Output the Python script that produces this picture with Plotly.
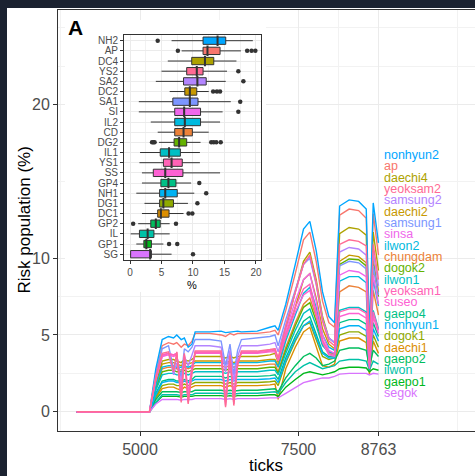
import math
import plotly.graph_objects as go

# ---------------- data ----------------
ticks = [4000, 5150, 5250, 5350, 5450, 5530, 5580, 5650, 5700, 5760, 5820, 5870, 6100, 6280,
         6350, 6420, 6480, 6540, 6600, 6850, 7050, 7130, 7180, 7300, 7450, 7580, 7680, 7780,
         7880, 7980, 8070, 8150, 8300, 8450, 8570, 8620, 8680, 8763]

ap = [0, 0, 2.5, 4.3, 4.5, 4.4, 4.5, 4.2, 4.4, 4.3, 4.6, 5.1, 5.1, 5.0, 4.9, 5.1, 5.0, 5.1, 5.1, 5.1, 5.2, 5.3, 5.0, 6.6, 9.0, 11.2, 11.7, 9.8, 7.2, 5.8, 5.5, 12.8, 13.2, 13.1, 12.6, 4.6, 12.9, 10.2]
chungdam = [0, 0, 1.6, 2.8, 2.9, 2.9, 2.8, 2.7, 2.9, 2.8, 2.9, 3.0, 3.0, 3.0, 2.9, 3.0, 2.9, 3.0, 3.0, 3.0, 3.1, 3.1, 2.6, 4.2, 5.8, 7.0, 7.4, 6.2, 4.6, 3.9, 3.7, 7.8, 8.2, 8.1, 7.8, 3.0, 7.9, 6.3]
daechi1 = [0, 0, 0.9, 1.5, 1.6, 1.6, 1.5, 1.4, 1.6, 1.5, 1.6, 1.7, 1.7, 1.7, 1.6, 1.7, 1.6, 1.7, 1.7, 1.7, 1.75, 1.8, 0.8, 2.8, 4.2, 5.2, 5.5, 4.2, 3.0, 2.9, 3.1, 4.6, 4.8, 4.8, 4.5, 2.4, 4.6, 3.8]
daechi2 = [0, 0, 1.8, 3.1, 3.2, 3.2, 3.1, 3.0, 3.2, 3.1, 3.2, 3.3, 3.3, 3.3, 3.2, 3.3, 3.2, 3.3, 3.3, 3.3, 3.4, 3.4, 3.0, 4.8, 6.8, 8.6, 9.0, 7.4, 5.4, 4.4, 4.1, 9.8, 10.2, 10.1, 9.7, 3.6, 9.9, 7.8]
daechi4 = [0, 0, 1.9, 3.3, 3.4, 3.4, 3.3, 3.2, 3.4, 3.3, 3.4, 3.6, 3.6, 3.6, 3.5, 3.6, 3.5, 3.6, 3.6, 3.6, 3.7, 3.8, 3.2, 5.4, 7.8, 9.8, 10.4, 8.6, 6.2, 4.8, 4.5, 11.6, 12.0, 11.9, 11.5, 4.2, 11.7, 9.2]
dogok1 = [0, 0, 1.0, 1.7, 1.8, 1.8, 1.7, 1.7, 1.8, 1.7, 1.8, 1.9, 1.9, 1.9, 1.8, 1.9, 1.8, 1.9, 1.9, 1.9, 1.95, 2.0, 1.7, 3.2, 4.6, 5.6, 5.8, 4.7, 3.6, 3.4, 3.5, 5.0, 5.2, 5.2, 4.9, 2.8, 5.0, 4.2]
dogok2 = [0, 0, 1.5, 2.6, 2.7, 2.7, 2.6, 2.6, 2.7, 2.6, 2.7, 2.8, 2.8, 2.8, 2.7, 2.8, 2.7, 2.8, 2.8, 2.8, 2.9, 2.9, 2.5, 4.0, 5.6, 6.8, 7.1, 5.9, 4.4, 3.8, 3.7, 9.6, 9.95, 9.9, 9.5, 3.4, 9.6, 7.5]
gaepo1 = [0, 0, 0.6, 1.0, 1.0, 1.0, 1.0, 0.95, 1.0, 1.0, 1.0, 1.05, 1.05, 1.05, 1.0, 1.05, 1.0, 1.05, 1.05, 1.05, 1.1, 1.1, 1.0, 1.6, 2.1, 2.5, 2.6, 2.5, 2.4, 2.5, 2.6, 2.8, 2.9, 2.9, 2.85, 2.6, 2.8, 2.7]
gaepo2 = [0, 0, 0.8, 1.3, 1.3, 1.3, 1.3, 1.25, 1.3, 1.3, 1.3, 1.4, 1.4, 1.4, 1.35, 1.4, 1.35, 1.4, 1.4, 1.4, 1.45, 1.5, 1.3, 2.2, 3.0, 3.6, 3.8, 3.5, 3.0, 3.1, 3.3, 4.0, 4.15, 4.15, 4.0, 2.9, 4.0, 3.6]
gaepo4 = [0, 0, 1.2, 2.0, 2.1, 2.1, 2.0, 2.0, 2.1, 2.0, 2.1, 2.3, 2.3, 2.3, 2.2, 2.3, 2.2, 2.3, 2.3, 2.3, 2.35, 2.4, 2.1, 3.5, 4.9, 5.9, 6.2, 5.1, 3.9, 3.6, 3.6, 5.8, 6.0, 6.0, 5.7, 3.0, 5.8, 4.9]
ilwon = [0, 0, 0.6, 1.1, 1.1, 1.1, 1.1, 1.05, 1.1, 1.1, 1.1, 1.2, 1.2, 1.2, 1.15, 1.2, 1.15, 1.2, 1.2, 1.2, 1.25, 1.3, 1.2, 1.9, 2.6, 3.0, 3.2, 3.0, 2.8, 2.9, 3.0, 3.3, 3.4, 3.4, 3.3, 2.7, 3.3, 3.1]
ilwon1 = [0, 0, 1.4, 2.4, 2.5, 2.5, 2.4, 2.4, 2.5, 2.4, 2.5, 2.6, 2.6, 2.6, 2.5, 2.6, 2.5, 2.6, 2.6, 2.6, 2.7, 2.7, 2.4, 3.8, 5.3, 6.4, 6.7, 5.6, 4.3, 3.9, 3.8, 6.6, 6.8, 6.8, 6.5, 3.2, 6.6, 5.4]
ilwon2 = [0, 0, 1.7, 2.9, 3.0, 3.0, 2.9, 2.9, 3.0, 2.9, 3.0, 3.2, 3.2, 3.2, 3.1, 3.2, 3.1, 3.2, 3.2, 3.2, 3.3, 3.3, 2.9, 4.6, 6.3, 7.7, 8.1, 6.8, 5.0, 4.2, 4.0, 8.5, 8.8, 8.8, 8.4, 3.5, 8.6, 6.9]
nonhyun1 = [0, 0, 1.1, 1.9, 2.0, 2.0, 1.9, 1.9, 2.0, 1.9, 2.0, 2.1, 2.1, 2.1, 2.0, 2.1, 2.0, 2.1, 2.1, 2.1, 2.15, 2.2, 1.9, 3.3, 4.7, 5.6, 5.9, 4.9, 3.8, 3.5, 3.5, 5.4, 5.6, 5.6, 5.3, 2.9, 5.4, 4.6]
nonhyun2 = [0, 0, 2.8, 4.7, 4.9, 4.8, 5.0, 4.7, 4.8, 4.2, 4.4, 5.2, 5.2, 5.25, 5.15, 5.2, 5.2, 5.25, 5.2, 5.25, 5.5, 5.6, 5.3, 7.0, 9.6, 11.9, 12.4, 10.5, 7.8, 6.2, 5.8, 13.4, 13.8, 13.7, 13.2, 5.0, 13.6, 11.0]
samsung1 = [0, 0, 2.4, 4.1, 4.3, 2.8, 3.6, 2.2, 4.1, 3.9, 4.2, 4.7, 4.7, 4.6, 3.0, 4.4, 2.4, 4.0, 4.7, 4.8, 4.9, 5.0, 4.3, 6.0, 8.0, 9.6, 10.0, 8.3, 6.0, 4.8, 4.5, 9.5, 9.8, 9.7, 9.3, 3.8, 9.5, 7.6]
samsung2 = [0, 0, 2.1, 3.6, 3.8, 2.4, 3.2, 1.8, 3.6, 3.0, 3.7, 4.3, 4.3, 4.2, 2.6, 4.0, 2.0, 3.6, 4.3, 4.3, 4.4, 4.5, 3.9, 5.7, 7.8, 9.6, 10.1, 8.4, 6.0, 4.8, 4.5, 10.4, 10.7, 10.6, 10.2, 3.9, 10.4, 8.2]
segok = [0, 0, 0.5, 0.8, 0.8, 0.8, 0.8, 0.75, 0.8, 0.8, 0.8, 0.85, 0.85, 0.85, 0.8, 0.85, 0.8, 0.85, 0.85, 0.85, 0.9, 0.9, 0.9, 1.2, 1.6, 1.9, 2.0, 2.1, 2.2, 2.2, 2.3, 2.45, 2.5, 2.5, 2.5, 2.4, 2.5, 2.45]
sinsa = [0, 0, 2.2, 3.7, 3.8, 3.7, 3.8, 1.2, 3.7, 0.9, 2.8, 3.9, 3.9, 3.9, 0.6, 3.6, 0.8, 3.2, 3.9, 3.9, 4.0, 4.1, 3.4, 5.3, 7.2, 8.6, 9.0, 7.2, 5.0, 4.0, 3.8, 8.9, 9.2, 9.1, 8.8, 3.0, 8.9, 7.0]
suseo = [0, 0, 2.1, 3.6, 3.7, 3.6, 3.7, 1.5, 3.6, 1.2, 3.0, 3.8, 3.8, 3.8, 0.9, 3.5, 1.1, 3.3, 3.8, 3.8, 3.9, 3.9, 3.3, 4.9, 6.5, 7.6, 7.9, 6.3, 4.5, 3.7, 3.6, 6.2, 6.4, 6.4, 6.1, 2.8, 6.2, 5.1]
yeoksam1 = [0, 0, 2.2, 3.7, 3.8, 3.7, 3.8, 0.8, 3.7, 0.6, 2.6, 3.85, 3.85, 3.85, 0.4, 3.6, 0.5, 3.1, 3.85, 3.85, 3.95, 4.0, 3.4, 5.1, 6.8, 8.0, 8.3, 6.6, 4.7, 3.8, 3.7, 6.5, 6.7, 6.7, 6.4, 2.9, 6.5, 5.3]
yeoksam2 = [0, 0, 2.3, 3.8, 3.9, 2.6, 3.9, 0.6, 3.8, 0.5, 2.5, 3.95, 3.95, 3.95, 0.3, 3.7, 0.4, 3.0, 3.95, 3.95, 4.05, 4.1, 3.5, 5.6, 7.8, 9.6, 10.2, 8.4, 5.9, 4.6, 4.3, 10.9, 11.2, 11.1, 10.8, 3.9, 10.9, 8.6]

regions = ["ap", "chungdam", "daechi1", "daechi2", "daechi4", "dogok1", "dogok2", "gaepo1",
           "gaepo2", "gaepo4", "ilwon", "ilwon1", "ilwon2", "nonhyun1", "nonhyun2", "samsung1",
           "samsung2", "segok", "sinsa", "suseo", "yeoksam1", "yeoksam2"]
region_values = [ap, chungdam, daechi1, daechi2, daechi4, dogok1, dogok2, gaepo1, gaepo2, gaepo4,
                 ilwon, ilwon1, ilwon2, nonhyun1, nonhyun2, samsung1, samsung2, segok, sinsa,
                 suseo, yeoksam1, yeoksam2]

# label order at the end of the lines (top to bottom)
label_order = ["nonhyun2", "ap", "daechi4", "yeoksam2", "samsung2", "daechi2", "samsung1", "sinsa",
               "ilwon2", "chungdam", "dogok2", "ilwon1", "yeoksam1", "suseo", "gaepo4", "nonhyun1",
               "dogok1", "daechi1", "gaepo2", "ilwon", "gaepo1", "segok"]

x_tickvals = [5000, 7500, 8763]
y_tickvals = [0, 5, 10, 20]

# inset boxplot (top to bottom)
box_cats = ["NH2", "AP", "DC4", "YS2", "SA2", "DC2", "SA1", "SI", "IL2", "CD", "DG2", "IL1",
            "YS1", "SS", "GP4", "NH1", "DG1", "DC1", "GP2", "IL", "GP1", "SG"]
box_region = ["nonhyun2", "ap", "daechi4", "yeoksam2", "samsung2", "daechi2", "samsung1", "sinsa",
              "ilwon2", "chungdam", "dogok2", "ilwon1", "yeoksam1", "suseo", "gaepo4", "nonhyun1",
              "dogok1", "daechi1", "gaepo2", "ilwon", "gaepo1", "segok"]
box_low = [6.6, 8.2, 6.0, 5.0, 4.1, 6.3, 1.4, 1.4, 3.3, 4.4, 4.6, 1.6, 1.5, 1.9, 1.9, 1.0, 2.3, 1.9, 1.3, 0.1, 1.0, 0.0]
box_q1 = [11.6, 11.6, 9.8, 9.0, 8.5, 8.7, 6.8, 7.1, 7.1, 7.1, 7.0, 4.8, 5.3, 3.7, 4.9, 4.7, 4.7, 4.4, 3.3, 1.5, 2.2, 0.1]
box_med = [13.9, 12.3, 11.9, 10.6, 10.7, 9.5, 9.5, 8.6, 8.7, 8.5, 7.8, 6.2, 6.6, 5.6, 6.1, 5.6, 5.3, 4.9, 4.1, 2.8, 2.6, 3.2]
box_q3 = [15.2, 14.3, 13.3, 11.6, 12.1, 10.6, 10.8, 11.2, 11.2, 9.9, 9.0, 8.0, 8.3, 8.4, 7.3, 7.5, 6.9, 6.2, 4.8, 3.8, 3.4, 3.4]
box_high = [19.5, 17.6, 16.9, 15.4, 15.2, 12.5, 16.0, 14.7, 14.3, 12.5, 11.2, 11.1, 11.1, 14.3, 9.7, 10.2, 9.2, 8.5, 6.3, 6.3, 5.3, 6.6]
out_cat = ["NH2", "AP", "AP", "AP", "AP", "YS2", "SA2", "DC2", "DC2", "DC2", "SA1", "SI",
           "DG2", "DG2", "DG2", "DG2", "DG2", "DG2", "DG2", "GP4", "NH1", "DG1", "DC1", "DC1",
           "GP2", "GP2", "GP1", "GP1", "SG"]
out_val = [4.4, 7.6, 18.6, 19.3, 19.9, 17.2, 18.0, 13.2, 13.8, 14.3, 17.5, 17.2,
           3.5, 3.7, 3.9, 12.9, 13.3, 13.7, 14.4, 11.0, 12.1, 10.7, 9.3, 9.9,
           0.5, 7.3, 6.2, 7.5, 10.0]
inset_tickvals = [0, 5, 10, 15, 20]


# ---------------- colours (ggplot2 default hue palette) ----------------
def hcl_hex(h, c=100.0, l=65.0):
    Xn, Yn, Zn = 95.047, 100.0, 108.883
    hr = math.radians(h)
    u, v = c * math.cos(hr), c * math.sin(hr)
    Y = Yn * ((l + 16) / 116) ** 3 if l > 7.999592 else Yn * l / 903.3
    t = Xn + Yn + Zn
    x, y = Xn / t, Yn / t
    uN = 2 * x / (6 * y - x + 1.5)
    vN = 4.5 * y / (6 * y - x + 1.5)
    U = u / (13 * l) + uN
    V = v / (13 * l) + vN
    X = 9.0 * Y * U / (4 * V)
    Z = -X / 3 - 5 * Y + 3 * Y / V

    def g(val):
        val = val / Yn
        val = 1.055 * val ** (1 / 2.4) - 0.055 if val > 0.00304 else 12.92 * val
        return int(round(255 * min(1, max(0, val))))
    r = g(3.240479 * X - 1.537150 * Y - 0.498535 * Z)
    gg = g(-0.969256 * X + 1.875992 * Y + 0.041556 * Z)
    b = g(0.055648 * X - 0.204043 * Y + 1.057311 * Z)
    return "#%02X%02X%02X" % (r, gg, b)


n = len(regions)
colors = {name: hcl_hex(15 + i * 360.0 / n) for i, name in enumerate(regions)}

# ---------------- layout geometry (page pixels) ----------------
PAGE_W, PAGE_H = 475, 476
OX, OY = 7, 8                      # dark page border (left, top)
W, H = PAGE_W - OX, PAGE_H - OY    # figure size
PL, PR, PT, PB = 58, 475, 10, 431  # plot area in page pixels
ML, MR, MT, MB = PL - OX, PAGE_W - PR, PT - OY, PAGE_H - PB
PW = PR - PL
PH = PB - PT


def fx(px):
    return (px - PL) / PW


def fy(py):
    return (PB - py) / PH


FONT = "Liberation Sans, Arial, Helvetica, sans-serif"
GRID = "#EBEBEB"
GRID_MINOR = "#F2F2F2"
DARK = "#333333"
TXT = "#4D4D4D"
PAGE_BG = "#1B2230"

fig = go.Figure()

for name, vals in zip(regions, region_values):
    fig.add_trace(go.Scatter(x=ticks, y=vals, mode="lines", name=name,
                             line=dict(color=colors[name], width=1.4),
                             hoverinfo="skip", showlegend=False, xaxis="x", yaxis="y"))

# invisible cover subplot (inset background)
fig.add_trace(go.Scatter(x=[None], y=[None], mode="markers", showlegend=False,
                         hoverinfo="skip", xaxis="x2", yaxis="y2"))

# inset boxes
for cat, reg, lo, q1, md, q3, hi in zip(box_cats, box_region, box_low, box_q1, box_med, box_q3, box_high):
    fig.add_trace(go.Box(y=[cat], q1=[q1], median=[md], q3=[q3], lowerfence=[lo], upperfence=[hi],
                         orientation="h", fillcolor=colors[reg], line=dict(color=DARK, width=1),
                         whiskerwidth=0, width=0.72, boxpoints=False, showlegend=False,
                         hoverinfo="skip", xaxis="x3", yaxis="y3"))
# thicker median bars (ggplot fatten)
fig.add_trace(go.Scatter(x=box_med, y=box_cats, mode="markers",
                         marker=dict(symbol="line-ns", size=7.5,
                                     line=dict(color=DARK, width=2)),
                         showlegend=False, hoverinfo="skip", xaxis="x3", yaxis="y3"))
fig.add_trace(go.Scatter(x=out_val, y=out_cat, mode="markers",
                         marker=dict(color=DARK, size=4.5), showlegend=False,
                         hoverinfo="skip", xaxis="x3", yaxis="y3"))

annotations = []
# region labels
top_px, bot_px = 155.0, 393.0
for i, name in enumerate(label_order):
    py = top_px + i * (bot_px - top_px) / (len(label_order) - 1)
    annotations.append(dict(x=8815, xref="x", y=fy(py), yref="paper", text=name, showarrow=False,
                            xanchor="left", yanchor="middle",
                            font=dict(family=FONT, size=12.5, color=colors[name])))


def note(px, py, text, size, angle=0):
    return dict(x=fx(px), y=fy(py), xref="paper", yref="paper", text=text, textangle=angle,
                showarrow=False, xanchor="center", yanchor="middle",
                font=dict(family=FONT, size=size, color="black"))


annotations += [
    note(23.5, 220, "Risk population (%)", 17, -90),
    note(266, 465, "ticks", 17),
    note(75, 27.5, "<b>A</b>", 21),
    note(192, 285, "%", 11),
]

fig.update_layout(
    width=W, height=H,
    margin=dict(l=ML, r=MR, t=MT, b=MB, pad=0),
    paper_bgcolor="white", plot_bgcolor="white",
    font=dict(family=FONT, color=TXT),
    showlegend=False,
    boxmode="overlay",
    annotations=annotations,
    xaxis=dict(domain=[0, 1], range=[3706, 10286], tickvals=x_tickvals,
               ticktext=[str(v) for v in x_tickvals], tickfont=dict(size=16, color=TXT),
               ticks="outside", ticklen=4, tickcolor=DARK, showgrid=True, gridcolor=GRID,
               gridwidth=1.1, zeroline=False, showline=True, linecolor=DARK, linewidth=1,
               mirror=True, anchor="y", automargin=False,
               minor=dict(tickvals=[3750, 6250, 8131.5, 10013], showgrid=True,
                          gridcolor=GRID_MINOR, gridwidth=0.8, ticks="")),
    yaxis=dict(domain=[0, 1], range=[-1.257, 26.17], tickvals=y_tickvals,
               tickfont=dict(size=16, color=TXT), ticks="outside", ticklen=4, tickcolor=DARK,
               showgrid=True, gridcolor=GRID, gridwidth=1.1, zeroline=False, showline=True,
               linecolor=DARK, linewidth=1, anchor="x", automargin=False,
               minor=dict(tickvals=[2.5, 7.5, 15, 22.5, 25], showgrid=True,
                          gridcolor=GRID_MINOR, gridwidth=0.8, ticks="")),
    xaxis2=dict(domain=[fx(65), fx(266)], range=[0, 1], anchor="y2", showgrid=False,
                zeroline=False, showline=False, showticklabels=False, ticks=""),
    yaxis2=dict(domain=[fy(292), fy(20)], range=[0, 1], anchor="x2", showgrid=False,
                zeroline=False, showline=False, showticklabels=False, ticks=""),
    xaxis3=dict(domain=[fx(124), fx(260.7)], range=[-0.952, 20.75], anchor="y3",
                tickvals=inset_tickvals, tickfont=dict(size=10, color=TXT), ticks="outside",
                ticklen=3, tickcolor=DARK, showgrid=True, gridcolor=GRID, gridwidth=1,
                zeroline=False, showline=True, linecolor=DARK, linewidth=1, mirror=True,
                minor=dict(dtick=2.5, tick0=0, showgrid=True, gridcolor=GRID_MINOR,
                           gridwidth=0.7, ticks="")),
    yaxis3=dict(domain=[fy(260.3), fy(34.6)], type="category",
                categoryorder="array", categoryarray=box_cats[::-1],
                tickmode="array", tickvals=box_cats, ticktext=box_cats,
                range=[-0.6, len(box_cats) - 0.4], anchor="x3",
                tickfont=dict(size=10, color=TXT), ticks="outside", ticklen=3, tickcolor=DARK,
                showgrid=True, gridcolor=GRID, gridwidth=1, zeroline=False, showline=True,
                linecolor=DARK, linewidth=1, mirror=True),
)

page_css = ("document.documentElement.style.background='%s';"
            "document.body.style.background='%s';"
            "document.body.style.margin='%dpx 0 0 %dpx';"
            "document.body.style.overflow='hidden';") % (PAGE_BG, PAGE_BG, OY, OX)

fig.write_html("out.html", config={"displayModeBar": False}, post_script=page_css)
